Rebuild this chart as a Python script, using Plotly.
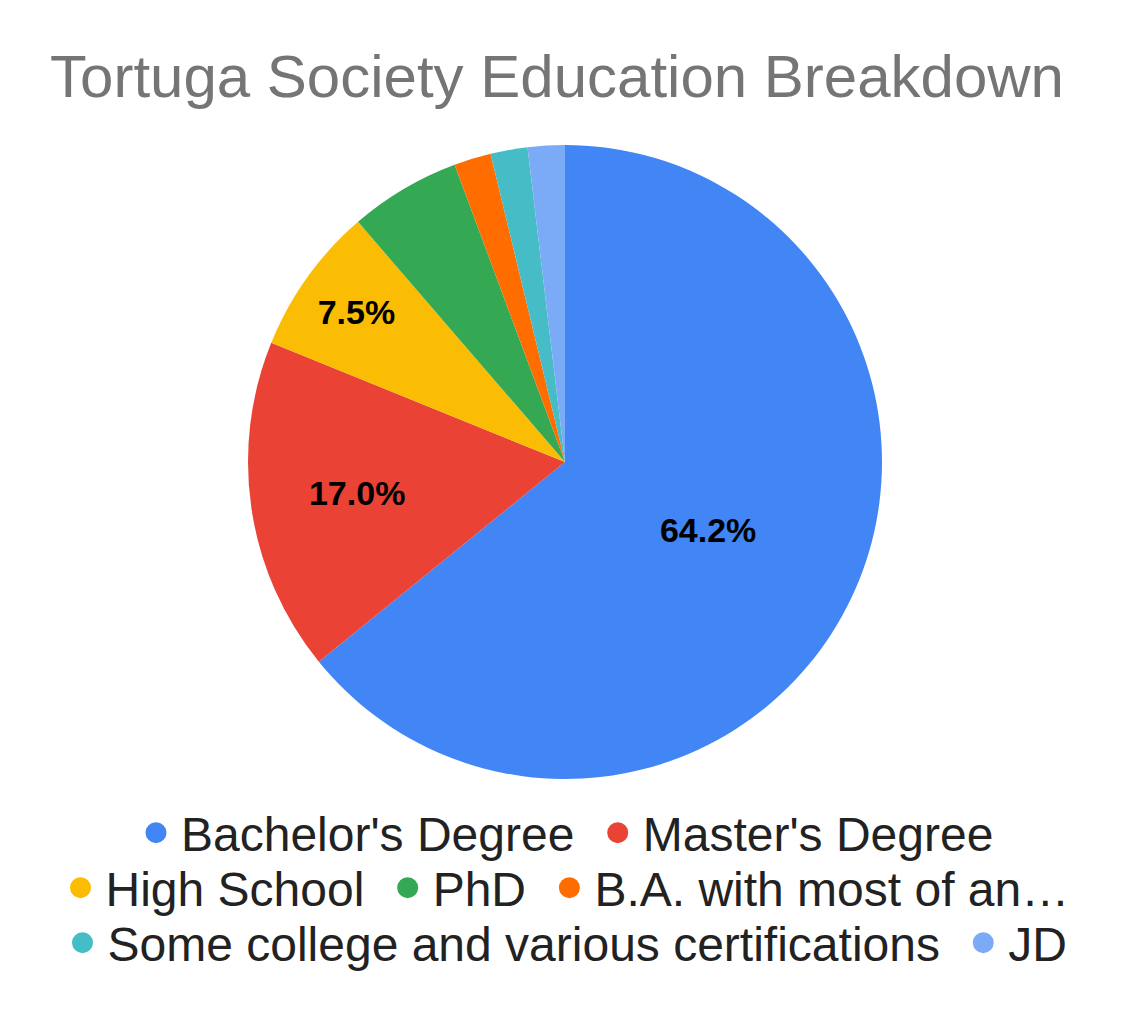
import plotly.graph_objects as go

# ---- data ----
categories = [
    "Bachelor's Degree",
    "Master's Degree",
    "High School",
    "PhD",
    "B.A. with most of an…",
    "Some college and various certifications",
    "JD",
]
counts = [34, 9, 4, 3, 1, 1, 1]
colors = ["#4285F4", "#EA4335", "#FBBC04", "#34A853", "#FF6D01", "#46BDC6", "#7BAAF7"]
legend_rows = [2, 3, 2]  # number of legend entries per row

title_text = "Tortuga Society Education Breakdown"
FONT = "Liberation Sans, Arial, sans-serif"

W, H = 1130, 1024
OFF = 8  # page body margin offset

total = sum(counts)
# show labels only for slices >= 7%
texttemplates = ["%{percent:.1%}" if c / total >= 0.07 else "" for c in counts]

fig = go.Figure()
fig.add_trace(
    go.Pie(
        labels=categories,
        values=counts,
        sort=False,
        direction="clockwise",
        rotation=0,
        marker=dict(colors=colors, line=dict(width=0)),
        texttemplate=texttemplates,
        textposition="inside",
        insidetextorientation="horizontal",
        insidetextfont=dict(family=FONT, size=34, color="#000000", weight="bold"),
        showlegend=False,
        hoverinfo="label+percent",
        domain=dict(
            x=[0, (2 * (565 - OFF)) / W],
            y=[1 - (779 - OFF) / H, 1 - (145 - OFF) / H],
        ),
    )
)

# legend entries (one per category), split across three centered rows
legend_names = ["legend", "legend2", "legend3"]
idx = 0
for row, n in enumerate(legend_rows):
    for k in range(n):
        # a non-breaking space widens the gap before the next entry in the row
        label = categories[idx] + ("\u00a0" if k < n - 1 else "")
        fig.add_trace(
            go.Scatter(
                x=[None],
                y=[None],
                mode="markers",
                name=label,
                marker=dict(
                    color=colors[idx],
                    size=16,
                    symbol="circle",
                    line=dict(color=colors[idx], width=5),
                ),
                legend=legend_names[row],
                showlegend=True,
            )
        )
        idx += 1

row_y = [825, 880, 935]
legend_common = dict(
    orientation="h",
    xanchor="center",
    x=(565 - OFF) / W,
    yanchor="middle",
    itemwidth=40,
    font=dict(family=FONT, size=48, color="#222222"),
    bgcolor="rgba(0,0,0,0)",
    itemclick=False,
    itemdoubleclick=False,
)
fig.update_layout(
    legend=dict(y=1 - row_y[0] / H, **legend_common),
    legend2=dict(y=1 - row_y[1] / H, **legend_common),
    legend3=dict(y=1 - row_y[2] / H, **legend_common),
)

fig.update_layout(
    width=W,
    height=H,
    margin=dict(l=0, r=0, t=0, b=0),
    paper_bgcolor="white",
    plot_bgcolor="white",
    font=dict(family=FONT),
    title=dict(
        text=title_text,
        x=(557 - OFF) / W,
        xanchor="center",
        y=1 - 68 / H,
        yanchor="middle",
        font=dict(family=FONT, size=60, color="#757575"),
    ),
    xaxis=dict(visible=False),
    yaxis=dict(visible=False),
)

fig.write_html("out.html")
